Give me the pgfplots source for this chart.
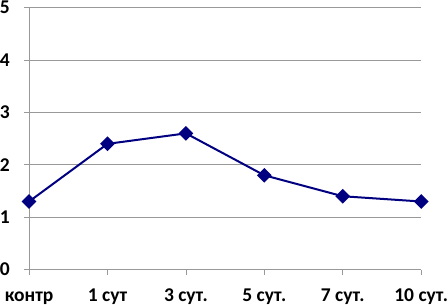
\documentclass[border=0pt]{standalone}
\usepackage{fontspec}
\setmainfont{Carlito}
\usepackage{pgfplots}
\pgfplotsset{compat=1.18}
\definecolor{navy}{RGB}{0,0,128}
\begin{document}
\begin{tikzpicture}
\fontsize{20bp}{24bp}\selectfont
\begin{axis}[
  scale only axis,
  width=392bp, height=262bp,
  xmin=0, xmax=5, ymin=0, ymax=5,
  axis lines=left,
  axis line style={gray!80, -, line width=0.8bp},
  xtick={0,1,2,3,4,5},
  xticklabels={контр, 1 сут, 3 сут., 5 сут., 7 сут., 10 сут.},
  ytick={0,1,2,3,4,5},
  ymajorgrids,
  grid style={gray!80, line width=0.8bp},
  tick style={gray!80, line width=0.8bp},
  tick align=outside,
  major tick length=5bp,
  ticklabel style={font=\fontsize{19.5bp}{22bp}\selectfont\bfseries, text=black, inner sep=0pt},
  yticklabel style={xshift=-14bp, inner ysep=1.2bp},
  xticklabel style={yshift=-14bp, text height=12.5bp, text depth=3.5bp},
  /pgf/number format/assume math mode=true,
  clip=false,
]
\addplot[color=navy, line width=2bp, mark=square*, mark size=4.2bp, mark options={solid, rotate=45, fill=navy}]
coordinates {(0,1.3) (1,2.4) (2,2.6) (3,1.8) (4,1.4) (5,1.3)};
\end{axis}
\end{tikzpicture}
\end{document}
